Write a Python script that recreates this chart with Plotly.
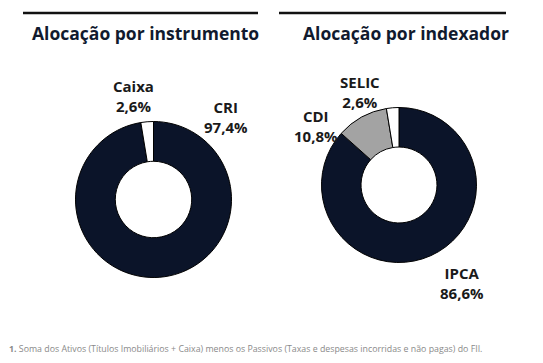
import plotly.graph_objects as go

# Data
instr_labels = ["CRI", "Caixa"]
instr_values = [97.4, 2.6]
instr_colors = ["#0b1429", "#ffffff"]

index_labels = ["IPCA", "CDI", "SELIC"]
index_values = [86.6, 10.8, 2.6]
index_colors = ["#0b1429", "#a3a3a3", "#ffffff"]

titles = ["Alocação por instrumento", "Alocação por indexador"]
footnote_num = "1."
footnote = "Soma dos Ativos (Títulos Imobiliários + Caixa) menos os Passivos (Taxas e despesas incorridas e não pagas) do FII."

W, H = 543, 363

def fmt(v):
    return f"{v:.1f}".replace(".", ",") + "%"

fig = go.Figure()
fig.add_trace(go.Pie(
    labels=instr_labels, values=instr_values, hole=0.49, sort=False,
    direction="clockwise", rotation=0, textinfo="none", hoverinfo="label+percent",
    marker=dict(colors=instr_colors, line=dict(color="#000000", width=1)),
    domain=dict(x=[75.5 / W, 231.5 / W], y=[85.5 / H, 241.5 / H]),
    showlegend=False,
))
fig.add_trace(go.Pie(
    labels=index_labels, values=index_values, hole=0.49, sort=False,
    direction="clockwise", rotation=0, textinfo="none", hoverinfo="label+percent",
    marker=dict(colors=index_colors, line=dict(color="#000000", width=1)),
    domain=dict(x=[321.5 / W, 476.5 / W], y=[100.5 / H, 255.5 / H]),
    showlegend=False,
))

label_font = dict(family="Open Sans", size=15, color="#1a1a1a")
annotations = []

# label positions (pixels from top-left)
instr_pos = {"CRI": (226, 117), "Caixa": (133, 96)}
index_pos = {"IPCA": (462, 283), "CDI": (316, 126), "SELIC": (360, 92)}

for lab, val in zip(instr_labels, instr_values):
    x, y = instr_pos[lab]
    annotations.append(dict(x=x / W, y=1 - y / H, xref="paper", yref="paper",
                            text=f"<b>{lab}</b><br><b>{fmt(val)}</b>", showarrow=False,
                            font=label_font, align="center", xanchor="center", yanchor="middle"))
for lab, val in zip(index_labels, index_values):
    x, y = index_pos[lab]
    annotations.append(dict(x=x / W, y=1 - y / H, xref="paper", yref="paper",
                            text=f"<b>{lab}</b><br><b>{fmt(val)}</b>", showarrow=False,
                            font=label_font, align="center", xanchor="center", yanchor="middle"))

title_font = dict(family="Open Sans", size=17.5, color="#111a2e")
for t, cx in zip(titles, [145, 406]):
    annotations.append(dict(x=cx / W, y=1 - 33 / H, xref="paper", yref="paper",
                            text=f"<b>{t}</b>", showarrow=False, font=title_font,
                            xanchor="center", yanchor="middle"))

annotations.append(dict(x=7 / W, y=1 - 349 / H, xref="paper", yref="paper",
                        text=f"<b>{footnote_num}</b> {footnote}", showarrow=False,
                        font=dict(family="Open Sans", size=8.8, color="#8a8a8a"),
                        xanchor="left", yanchor="middle"))

shapes = [
    dict(type="line", xref="paper", yref="paper", x0=23 / W, x1=258 / W,
         y0=1 - 13 / H, y1=1 - 13 / H, line=dict(color="#111111", width=2.5)),
    dict(type="line", xref="paper", yref="paper", x0=279 / W, x1=506 / W,
         y0=1 - 13 / H, y1=1 - 13 / H, line=dict(color="#111111", width=2.5)),
]

fig.update_layout(
    width=W, height=H, margin=dict(l=0, r=0, t=0, b=0),
    paper_bgcolor="white", plot_bgcolor="white",
    annotations=annotations, shapes=shapes,
)

fig.write_html("out.html", config={"displayModeBar": False},
               post_script="document.body.style.margin='0px';document.body.style.overflow='hidden';")
